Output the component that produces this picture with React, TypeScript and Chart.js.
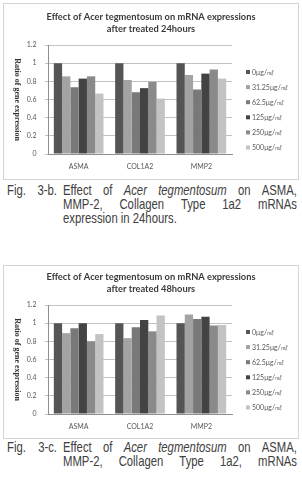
import React, { useEffect, useRef } from "react";
import { Chart, registerables } from "chart.js";

Chart.register(...registerables);

// Genes on the category axis
const categories = ["ASMA", "COL1A2", "MMP2"];

// Treatment doses (legend) and their bar fills
const doses = ["0μg/㎖", "31.25μg/㎖", "62.5μg/㎖", "125μg/㎖", "250μg/㎖", "500μg/㎖"];
const doseColors = ["#555555", "#a3a3a3", "#797979", "#434343", "#8a8a8a", "#c3c3c3"];

// Value axis ticks
const yTicks = [0, 0.2, 0.4, 0.6, 0.8, 1, 1.2];

// Ratio of gene expression after 24 hours (ASMA, COL1A2, MMP2) per dose
const h24Dose0 = [1.0, 1.0, 1.0];
const h24Dose31 = [0.855, 0.815, 0.87];
const h24Dose62 = [0.735, 0.68, 0.71];
const h24Dose125 = [0.83, 0.725, 0.885];
const h24Dose250 = [0.855, 0.795, 0.93];
const h24Dose500 = [0.665, 0.61, 0.83];

// Ratio of gene expression after 48 hours (ASMA, COL1A2, MMP2) per dose
const h48Dose0 = [1.0, 1.0, 1.0];
const h48Dose31 = [0.89, 0.835, 1.095];
const h48Dose62 = [0.945, 0.955, 1.045];
const h48Dose125 = [1.0, 1.035, 1.07];
const h48Dose250 = [0.8, 0.91, 0.975];
const h48Dose500 = [0.88, 1.085, 0.98];

const series24 = [h24Dose0, h24Dose31, h24Dose62, h24Dose125, h24Dose250, h24Dose500];
const series48 = [h48Dose0, h48Dose31, h48Dose62, h48Dose125, h48Dose250, h48Dose500];

const title24 = ["Effect of Acer tegmentosum on mRNA expressions", "after treated 24hours"];
const title48 = ["Effect of Acer tegmentosum on mRNA expressions", "after treated 48hours"];
const yTitle = "Ratio of gene expression";

// Draws the two-line title, the clockwise y title and the right-hand legend
const decorPlugin = (titleLines: string[]) => ({
  id: "decor",
  afterDraw(chart: any) {
    const { ctx, chartArea: a } = chart;
    ctx.save();
    ctx.textBaseline = "middle";

    ctx.fillStyle = "#3a3a3a";
    ctx.font = "bold 9.3px Lato";
    ctx.textAlign = "center";
    ctx.fillText(titleLines[0], chart.width / 2, a.top - 28);
    ctx.fillText(titleLines[1], chart.width / 2, a.top - 15.6);

    ctx.save();
    ctx.translate(14, (a.top + a.bottom) / 2);
    ctx.rotate(Math.PI / 2);
    ctx.font = "bold 8px 'Liberation Serif'";
    ctx.fillStyle = "#333333";
    ctx.fillText(yTitle, 0, 0);
    ctx.restore();

    ctx.textAlign = "left";
    ctx.font = "7px Lato";
    chart.data.datasets.forEach((ds: any, i: number) => {
      const y = a.top + 27.5 + i * 15.1;
      ctx.fillStyle = ds.backgroundColor;
      ctx.fillRect(243, y - 2.5, 4, 4);
      ctx.fillStyle = "#595959";
      ctx.fillText(ds.label, 249, y);
    });
    ctx.restore();
  },
});

function BarPanel({
  series,
  titleLines,
  width,
  height,
  top,
  axisHeight,
}: {
  series: number[][];
  titleLines: string[];
  width: number;
  height: number;
  top: number;
  axisHeight: number;
}) {
  const ref = useRef<HTMLCanvasElement>(null);

  useEffect(() => {
    if (!ref.current) return;
    const chart = new Chart(ref.current, {
      type: "bar",
      data: {
        labels: categories,
        datasets: series.map((values, i) => ({
          label: doses[i],
          data: values,
          backgroundColor: doseColors[i],
          borderWidth: 0,
          barPercentage: 1,
          categoryPercentage: 0.81,
        })),
      },
      options: {
        animation: false,
        responsive: false,
        devicePixelRatio: 1,
        layout: { padding: { top, right: 67, bottom: 0, left: 0 } },
        plugins: {
          legend: { display: false },
          title: { display: false },
          tooltip: { enabled: false },
        },
        scales: {
          x: {
            grid: { display: false, drawTicks: false },
            border: { color: "#8f8f8f" },
            ticks: { font: { size: 7, family: "Lato" }, color: "#595959", padding: 9 },
            afterFit: (s: any) => {
              s.height = axisHeight;
            },
          },
          y: {
            min: 0,
            max: 1.2,
            afterBuildTicks: (s: any) => {
              s.ticks = yTicks.map((v) => ({ value: v }));
            },
            ticks: {
              font: { size: 7, family: "Lato" },
              color: "#595959",
              padding: 8.5,
              callback: (v: any) => String(Number(Number(v).toFixed(1))),
            },
            grid: { color: "#c2c2c2", tickLength: 3 },
            border: { color: "#8f8f8f" },
            afterFit: (s: any) => {
              s.width = 45;
            },
          },
        },
      },
      plugins: [decorPlugin(titleLines)],
    } as any);
    return () => chart.destroy();
  }, [series, titleLines, top, axisHeight]);

  return <canvas ref={ref} width={width} height={height} style={{ display: "block" }} />;
}

// Condensed caption face, squeezed horizontally
const SQUEEZE = 0.78;

const captionFont: React.CSSProperties = {
  fontFamily: "'Liberation Sans', Arial, sans-serif",
  fontSize: 14.5,
  color: "#404040",
  whiteSpace: "nowrap",
  position: "absolute",
  lineHeight: "14px",
  transformOrigin: "0 0",
  transform: `scaleX(${SQUEEZE})`,
};

function JustLine({ words, left, top, width }: { words: React.ReactNode[]; left: number; top: number; width: number }) {
  return (
    <div
      style={{
        ...captionFont,
        left,
        top,
        width: width / SQUEEZE,
        display: "flex",
        justifyContent: "space-between",
      }}
    >
      {words.map((w, i) => (
        <span key={i}>{w}</span>
      ))}
    </div>
  );
}

function Caption({ tag, top, line2, line3 }: { tag: string; top: number; line2: string[]; line3?: string }) {
  return (
    <>
      <JustLine words={["Fig.", tag]} left={7} top={top} width={50} />
      <JustLine
        words={["Effect", "of", <i>Acer</i>, <i>tegmentosum</i>, "on", "ASMA,"]}
        left={63}
        top={top}
        width={234}
      />
      <JustLine words={line2} left={63} top={top + 14} width={234} />
      {line3 && <div style={{ ...captionFont, left: 63, top: top + 28 }}>{line3}</div>}
    </>
  );
}

const boxStyle: React.CSSProperties = {
  position: "absolute",
  left: 3,
  width: 296,
  border: "1px solid #d4d4d4",
  boxSizing: "border-box",
  overflow: "hidden",
};

export default function App() {
  return (
    <div
      style={{
        position: "absolute",
        left: 0,
        top: 0,
        width: 302,
        height: 483,
        background: "#ffffff",
        overflow: "hidden",
      }}
    >
      <div style={{ ...boxStyle, top: 3, height: 177 }}>
        <div style={{ position: "absolute", left: -1, top: -1 }}>
          <BarPanel series={series24} titleLines={title24} width={296} height={177} top={42} axisHeight={26} />
        </div>
      </div>
      <Caption tag="3-b." top={183} line2={["MMP-2,", "Collagen", "Type", "1a2", "mRNAs"]} line3="expression in 24hours." />

      <div style={{ ...boxStyle, top: 265, height: 174 }}>
        <div style={{ position: "absolute", left: -1, top: -1 }}>
          <BarPanel series={series48} titleLines={title48} width={296} height={174} top={40} axisHeight={25} />
        </div>
      </div>
      <Caption tag="3-c." top={440} line2={["MMP-2,", "Collagen", "Type", "1a2,", "mRNAs"]} />
    </div>
  );
}
